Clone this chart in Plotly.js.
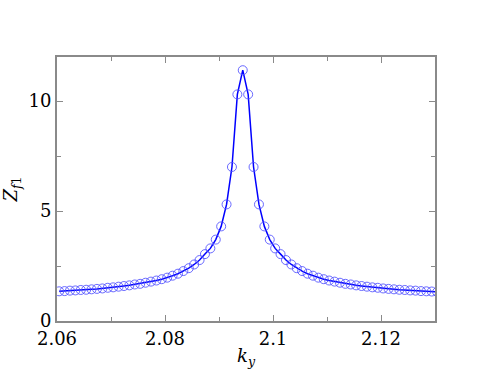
<!DOCTYPE html>
<html>
<head>
<meta charset="utf-8">
<script src="https://cdn.plot.ly/plotly-3.0.1.min.js"></script>
<style>
  html, body { margin: 0; padding: 0; background: #fff; }
  #plot { width: 491px; height: 379px; }
</style>
</head>
<body>
<div id="plot"></div>
<script>
// wavenumber samples
const ky = [
  2.0604, 2.0614, 2.0624, 2.0634, 2.0644, 2.0654, 2.0664, 2.0674, 2.0684, 2.0694,
  2.0704, 2.0714, 2.0724, 2.0734, 2.0744, 2.0754, 2.0764, 2.0774, 2.0784, 2.0794,
  2.0804, 2.0814, 2.0824, 2.0834, 2.0844, 2.0854, 2.0864, 2.0874, 2.0884, 2.0894,
  2.0904, 2.0914, 2.0924, 2.0934, 2.0944, 2.0954, 2.0964, 2.0974, 2.0984, 2.0994,
  2.1004, 2.1014, 2.1024, 2.1034, 2.1044, 2.1054, 2.1064, 2.1074, 2.1084, 2.1094,
  2.1104, 2.1114, 2.1124, 2.1134, 2.1144, 2.1154, 2.1164, 2.1174, 2.1184, 2.1194,
  2.1204, 2.1214, 2.1224, 2.1234, 2.1244, 2.1254, 2.1264, 2.1274, 2.1284, 2.1294,
  2.1304
];
const zf1 = [
  1.35, 1.36, 1.38, 1.39, 1.41, 1.42, 1.44, 1.46, 1.48, 1.51,
  1.53, 1.56, 1.59, 1.62, 1.66, 1.69, 1.74, 1.79, 1.84, 1.90,
  1.97, 2.06, 2.15, 2.27, 2.40, 2.57, 2.77, 3.04, 3.30, 3.70,
  4.30, 5.30, 7.00, 10.3, 11.4, 10.3, 7.00, 5.30, 4.30, 3.70,
  3.30, 3.04, 2.77, 2.57, 2.40, 2.27, 2.15, 2.06, 1.97, 1.90,
  1.84, 1.79, 1.74, 1.69, 1.66, 1.62, 1.59, 1.56, 1.53, 1.51,
  1.48, 1.46, 1.44, 1.42, 1.41, 1.39, 1.38, 1.36, 1.35, 1.34,
  1.32
];
const xTicks = [2.06, 2.08, 2.1, 2.12];
const yTicks = [0, 5, 10];

const serif = "DejaVu Serif";
const axisGray = "#8a8a8a";

const lineTrace = {
  x: ky, y: zf1,
  type: "scatter", mode: "lines",
  line: { color: "#0000ff", width: 1.5 },
  hoverinfo: "skip"
};
const circleTrace = {
  x: ky, y: zf1,
  type: "scatter", mode: "markers",
  marker: {
    symbol: "circle-open", size: 9,
    color: "rgba(80,80,255,0.85)",
    line: { width: 1 }
  }
};

const layout = {
  width: 491, height: 379,
  margin: { l: 57, r: 56, t: 57, b: 58 },
  paper_bgcolor: "#fff", plot_bgcolor: "#fff",
  showlegend: false,
  xaxis: {
    range: [2.06, 2.13],
    showgrid: false, zeroline: false,
    showline: true, linecolor: axisGray, linewidth: 2, mirror: "ticks",
    ticks: "inside", tickcolor: axisGray, ticklen: 6,
    tickvals: xTicks,
    ticktext: xTicks.map(String),
    tickfont: { family: serif, size: 18, color: "#000" },
    minor: { dtick: 0.01, tick0: 2.06, ticks: "inside", ticklen: 4, tickcolor: axisGray },
    title: { text: "<i>k</i><sub><i>y</i></sub>", font: { family: serif, size: 18, color: "#000" }, standoff: 2 }
  },
  yaxis: {
    range: [0, 12],
    showgrid: false, zeroline: false,
    showline: true, linecolor: axisGray, linewidth: 2, mirror: "ticks",
    ticks: "inside", tickcolor: axisGray, ticklen: 6,
    tickvals: yTicks,
    ticktext: yTicks.map(String),
    tickfont: { family: serif, size: 18, color: "#000" },
    minor: { dtick: 2.5, tick0: 0, ticks: "inside", ticklen: 4, tickcolor: axisGray },
    title: { text: "<i>Z</i><sub><i>f</i>1</sub>", font: { family: serif, size: 18, color: "#000" }, standoff: 8 }
  }
};

Plotly.newPlot("plot", [lineTrace, circleTrace], layout, { displayModeBar: false });
</script>
</body>
</html>
